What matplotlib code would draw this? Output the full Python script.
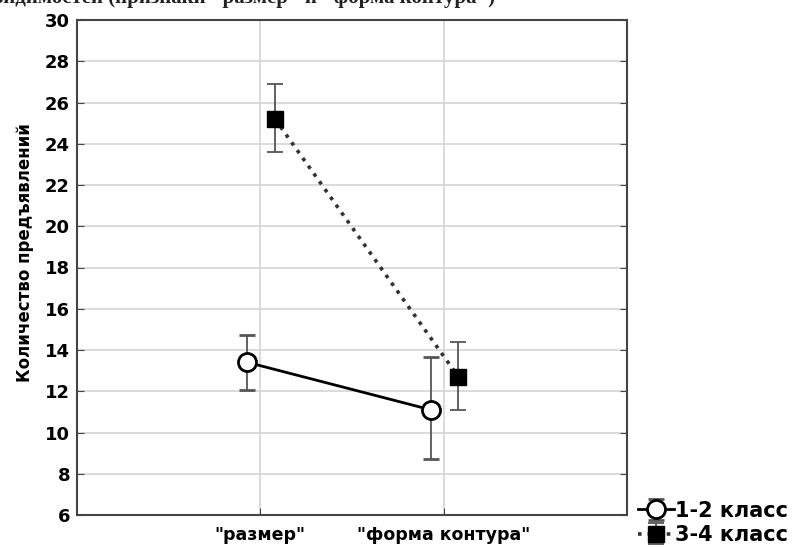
import numpy as np
import matplotlib
matplotlib.use('Agg')
import matplotlib.pyplot as plt

plt.rcParams['font.family'] = ['DejaVu Sans']

categories = ['"размер"', '"форма контура"']
series_names = ['1-2 класс', '3-4 класс']

mean_12 = [13.4, 11.1]
low_12 = [12.05, 8.7]
high_12 = [14.75, 13.65]

mean_34 = [25.2, 12.7]
low_34 = [23.6, 11.1]
high_34 = [26.9, 14.4]

yticks = list(range(6, 31, 2))

fig = plt.figure(figsize=(7.96, 5.49), dpi=100)
ax = fig.add_axes([77 / 796, 1 - 515 / 549, 550 / 796, 495 / 549])

x = np.arange(1, len(categories) + 1)
errc = '#555555'

m12 = np.array(mean_12)
e12 = [m12 - np.array(low_12), np.array(high_12) - m12]
h1 = ax.errorbar(x - 0.07, m12, yerr=e12, color='black', lw=2.0,
                 marker='o', ms=13, mfc='white', mec='black', mew=2.0,
                 ecolor=errc, elinewidth=1.3, capsize=6, capthick=1.3,
                 zorder=3)

m34 = np.array(mean_34)
e34 = [m34 - np.array(low_34), np.array(high_34) - m34]
h2 = ax.errorbar(x + 0.08, m34, yerr=e34, color='#333333', lw=2.6, ls=':',
                 marker='s', ms=12, mfc='black', mec='black',
                 ecolor=errc, elinewidth=1.3, capsize=6, capthick=1.3,
                 zorder=3)

ax.set_xlim(0, 3)
ax.set_ylim(6, 30)
ax.set_xticks(x)
ax.set_xticklabels(categories, fontsize=12.5, fontweight='bold')
ax.set_yticks(yticks)
ax.set_yticklabels([str(t) for t in yticks], fontsize=13, fontweight='bold')
ax.grid(True, color='#d4d4d4', lw=1.2)
ax.set_axisbelow(True)
ax.tick_params(axis='y', direction='in', right=True, left=True, length=5,
               pad=5, color='#444444')
ax.tick_params(axis='x', direction='in', top=False, length=5, pad=8,
               color='#444444')
for s in ax.spines.values():
    s.set_color('#444444')
    s.set_linewidth(1.5)

ax.set_ylabel('Количество предъявлений', fontsize=12, fontweight='bold')
ax.yaxis.set_label_coords(-0.078, 0.53)

leg = fig.legend([h1, h2], series_names, loc='lower right',
                 bbox_to_anchor=(0.995, 0.0), frameon=False,
                 prop={'size': 15, 'weight': 'bold'},
                 handlelength=1.7, handletextpad=0.05, labelspacing=0.2,
                 borderpad=0.1, borderaxespad=0.1)

# clipped caption line at the very top
fig.text(-0.01, 1 - 3.0 / 549, 'видимостей (признаки "размер" и "форма контура")',
         family='Liberation Serif', fontweight='bold', fontsize=15,
         va='baseline', ha='left', color='#222222')

plt.savefig('out.png', dpi=100)
plt.close()
